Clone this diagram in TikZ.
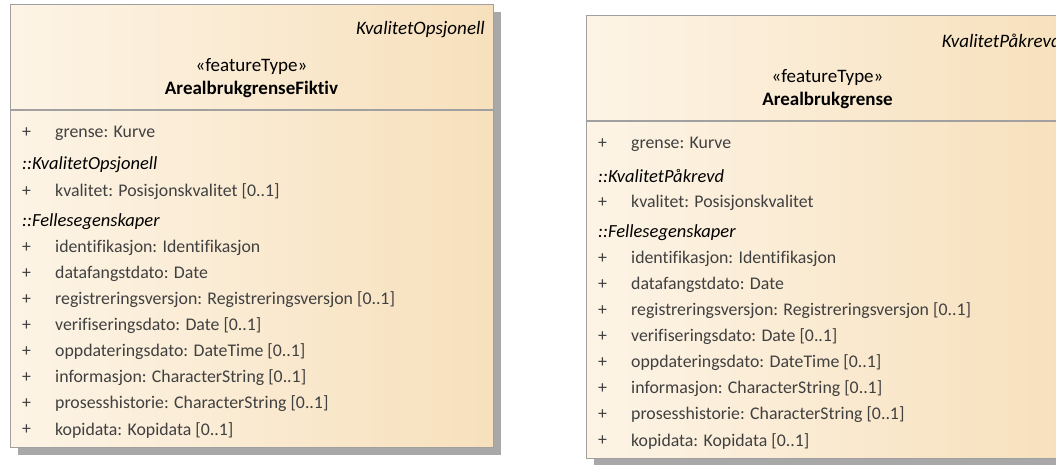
\documentclass[tikz,border=0pt]{standalone}
\usepackage{fontspec}
\setmainfont{Carlito}[Ligatures={NoCommon}]
\usetikzlibrary{shadows}
\definecolor{fillL}{RGB}{253,244,230}
\definecolor{fillR}{RGB}{247,224,188}
\definecolor{bordergray}{RGB}{160,160,160}
\definecolor{shadowgray}{RGB}{168,168,168}
\definecolor{txt}{RGB}{64,64,64}
\tikzset{
  classbox/.style={draw=bordergray, line width=1.2pt, left color=fillL, right color=fillR,
    minimum width=483pt, minimum height=443pt, anchor=north west, inner sep=0pt,
    drop shadow={shadow xshift=7pt, shadow yshift=-7pt, fill=shadowgray, opacity=1}},
  divider/.style={draw=bordergray, line width=1.2pt},
  fnt/.style={font=\fontsize{17.8}{21}\selectfont},
  tagtext/.style={anchor=east, inner sep=0pt, font=\fontsize{19}{22}\selectfont\itshape},
  stereo/.style={anchor=center, inner sep=0pt, font=\fontsize{19}{22}\selectfont},
  titletext/.style={anchor=center, inner sep=0pt, font=\fontsize{19}{22}\selectfont\bfseries},
  plus/.style={fnt, anchor=west, inner sep=0pt, text=txt},
  attr/.style={fnt, anchor=west, inner sep=0pt, text=txt},
  grp/.style={anchor=west, inner sep=0pt, font=\fontsize{18.5}{21}\selectfont\itshape}
}
\newcommand\umlrow[4]{% prefix, id, y, text
  \node[plus] (#1p#2) at (12,#3) {+};
  \node[attr] (#1a#2) at (45,#3) {#4};
}
\newcommand\umlclass[7]{% prefix, x, y, tag, title, group1, quality
\begin{scope}[shift={(#2,#3)}]
  \node[classbox] (#1box) at (0,0) {};
  \coordinate (#1dl) at (0,106);
  \coordinate (#1dr) at (483,106);
  \draw[divider] (#1dl) -- (#1dr);
  \node[tagtext] (#1tag) at (475,26) {#4};
  \node[stereo] (#1st) at (241.5,63) {«featureType»};
  \node[titletext] (#1ti) at (241.5,85) {#5};
  \umlrow{#1}{1}{129}{grense: Kurve}
  \node[grp] (#1g1) at (12,161) {::#6};
  \umlrow{#1}{2}{188}{#7}
  \node[grp] (#1g2) at (12,218) {::Fellesegenskaper};
  \umlrow{#1}{3}{244}{identifikasjon: Identifikasjon}
  \umlrow{#1}{4}{270}{datafangstdato: Date}
  \umlrow{#1}{5}{296}{registreringsversjon: Registreringsversjon [0..1]}
  \umlrow{#1}{6}{322}{verifiseringsdato: Date [0..1]}
  \umlrow{#1}{7}{348}{oppdateringsdato: DateTime [0..1]}
  \umlrow{#1}{8}{374}{informasjon: CharacterString [0..1]}
  \umlrow{#1}{9}{400}{prosesshistorie: CharacterString [0..1]}
  \umlrow{#1}{10}{426}{kopidata: Kopidata [0..1]}
\end{scope}
}
\begin{document}
\begin{tikzpicture}[x=1pt,y=-1pt]
\useasboundingbox (0,0) rectangle (1056,464);
\clip (0,0) rectangle (1056,464);
\fill[white] (0,0) rectangle (1056,464);
\umlclass{L}{10}{4}{KvalitetOpsjonell}{ArealbrukgrenseFiktiv}{KvalitetOpsjonell}{kvalitet: Posisjonskvalitet [0..1]}
\umlclass{R}{586}{15}{KvalitetPåkrevd}{Arealbrukgrense}{KvalitetPåkrevd}{kvalitet: Posisjonskvalitet}
\end{tikzpicture}
\end{document}
